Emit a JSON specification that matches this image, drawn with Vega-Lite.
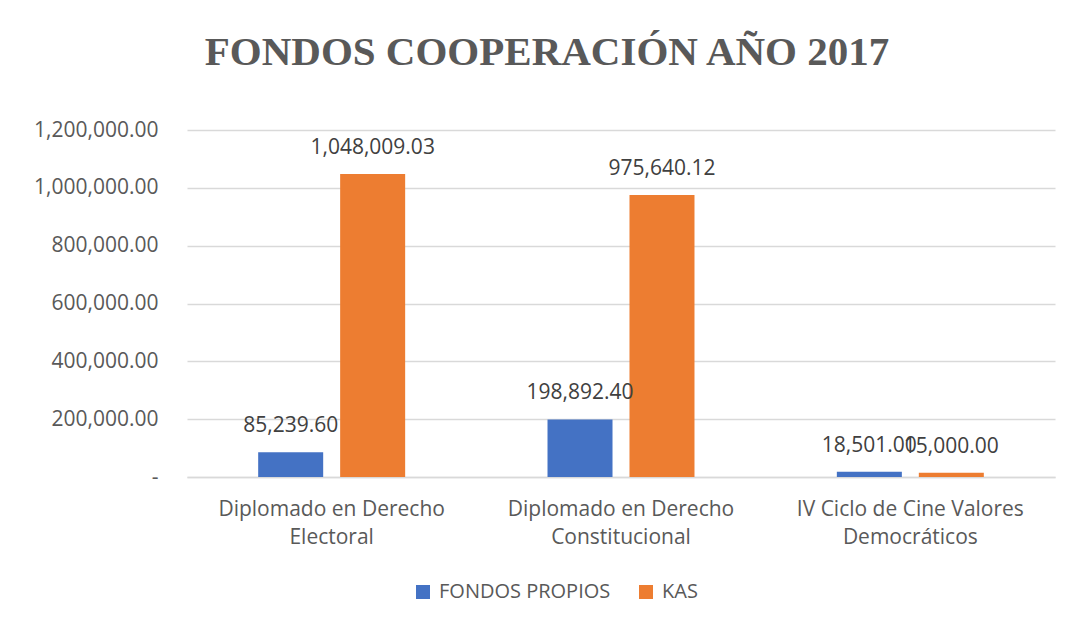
{
  "$schema": "https://vega.github.io/schema/vega-lite/v6.json",
  "autosize": "none",
  "width": 868,
  "height": 347,
  "padding": {"left": 187, "top": 130, "right": 14, "bottom": 144},
  "background": "white",
  "config": {"view": {"stroke": null}},
  "title": {
    "text": "FONDOS COOPERACIÓN AÑO 2017",
    "font": "Liberation Serif",
    "fontSize": 41,
    "fontWeight": "bold",
    "color": "#595959",
    "anchor": "middle",
    "frame": "group",
    "dx": -74,
    "offset": 45
  },
  "data": {
    "values": [
      {"categoria": "Diplomado en Derecho Electoral", "fuente": "FONDOS PROPIOS", "monto": 85239.60},
      {"categoria": "Diplomado en Derecho Electoral", "fuente": "KAS", "monto": 1048009.03},
      {"categoria": "Diplomado en Derecho Constitucional", "fuente": "FONDOS PROPIOS", "monto": 198892.40},
      {"categoria": "Diplomado en Derecho Constitucional", "fuente": "KAS", "monto": 975640.12},
      {"categoria": "IV Ciclo de Cine Valores Democráticos", "fuente": "FONDOS PROPIOS", "monto": 18501.00},
      {"categoria": "IV Ciclo de Cine Valores Democráticos", "fuente": "KAS", "monto": 15000.00}
    ]
  },
  "encoding": {
    "x": {
      "field": "categoria",
      "type": "nominal",
      "sort": null,
      "scale": {"paddingInner": 0.492, "paddingOuter": 0.246},
      "axis": {
        "title": null,
        "labelAngle": 0,
        "ticks": false,
        "domainColor": "#D9D9D9",
        "domainWidth": 1.5,
        "labelExpr": "[slice(datum.label, 0, lastindexof(datum.label, ' ')), slice(datum.label, lastindexof(datum.label, ' ') + 1)]",
        "labelFont": "Open Sans",
        "labelFontSize": 21,
        "labelColor": "#595959",
        "labelPadding": 21,
        "labelLineHeight": 28,
        "labelBaseline": "top",
        "labelLimit": 0
      }
    },
    "xOffset": {
      "field": "fuente",
      "type": "nominal",
      "sort": ["FONDOS PROPIOS", "KAS"],
      "scale": {"paddingInner": 0.207, "paddingOuter": 0}
    },
    "y": {
      "field": "monto",
      "type": "quantitative",
      "scale": {"domain": [0, 1200000], "nice": false},
      "axis": {
        "title": null,
        "values": [0, 200000, 400000, 600000, 800000, 1000000, 1200000],
        "labelExpr": "datum.value == 0 ? '-\u00a0\u00a0' : format(datum.value, ',.2f')",
        "domain": false,
        "ticks": false,
        "gridColor": "#D9D9D9",
        "gridWidth": 1.5,
        "labelFont": "Open Sans",
        "labelFontSize": 21,
        "labelColor": "#595959",
        "labelPadding": 29,
        "labelLimit": 0
      }
    }
  },
  "layer": [
    {
      "mark": {"type": "bar"},
      "encoding": {
        "color": {
          "field": "fuente",
          "type": "nominal",
          "scale": {"domain": ["FONDOS PROPIOS", "KAS"], "range": ["#4472C4", "#ED7D31"]},
          "legend": {
            "title": null,
            "orient": "none",
            "direction": "horizontal",
            "legendX": 226,
            "legendY": 452,
            "symbolType": "square",
            "symbolSize": 196,
            "symbolStrokeWidth": 0,
            "labelFont": "Open Sans",
            "labelFontSize": 20,
            "labelColor": "#595959",
            "labelOffset": 6,
            "labelLimit": 0,
            "columnPadding": 25
          }
        }
      }
    },
    {
      "mark": {"type": "text", "baseline": "middle", "dy": -26, "font": "Open Sans", "fontSize": 21, "color": "#404040"},
      "encoding": {
        "text": {"field": "monto", "type": "quantitative", "format": ",.2f"}
      }
    }
  ]
}
